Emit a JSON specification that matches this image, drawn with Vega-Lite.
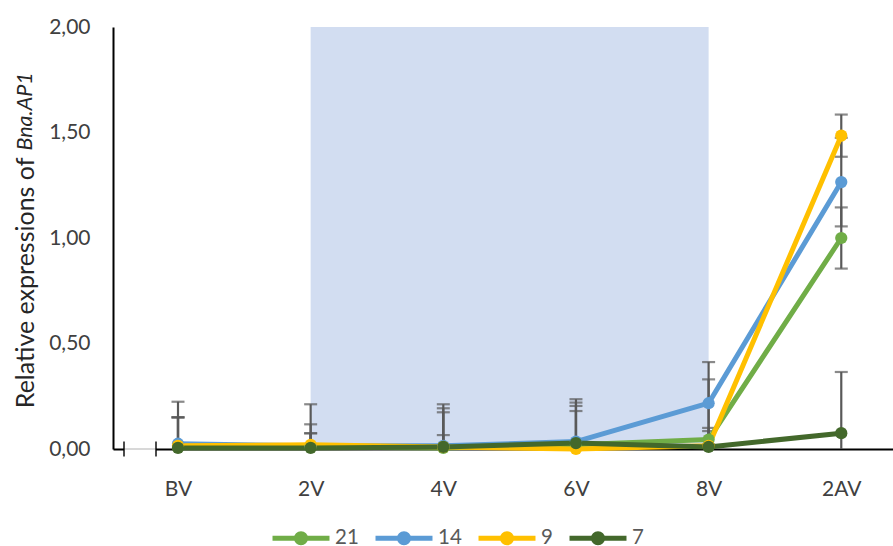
{
  "$schema": "https://vega.github.io/schema/vega-lite/v6.json",
  "width": 780,
  "height": 422,
  "autosize": {"type": "none"},
  "padding": {"left": 113, "top": 27, "right": 0, "bottom": 97},
  "background": "white",
  "config": {"view": {"stroke": null}, "font": "Lato"},
  "datasets": {
    "expr": [
      {"stage": "BV", "idx": 0, "series": "21", "value": 0.01, "lo": -0.204, "hi": 0.224},
      {"stage": "BV", "idx": 0, "series": "14", "value": 0.025, "lo": -0.1, "hi": 0.15},
      {"stage": "BV", "idx": 0, "series": "9", "value": 0.015, "lo": -0.12, "hi": 0.15},
      {"stage": "BV", "idx": 0, "series": "7", "value": 0.005, "lo": -0.14, "hi": 0.15},
      {"stage": "2V", "idx": 1, "series": "21", "value": 0.01, "lo": -0.19, "hi": 0.212},
      {"stage": "2V", "idx": 1, "series": "14", "value": 0.015, "lo": -0.087, "hi": 0.117},
      {"stage": "2V", "idx": 1, "series": "9", "value": 0.02, "lo": -0.034, "hi": 0.074},
      {"stage": "2V", "idx": 1, "series": "7", "value": 0.005, "lo": -0.065, "hi": 0.075},
      {"stage": "4V", "idx": 2, "series": "21", "value": 0.005, "lo": -0.2, "hi": 0.212},
      {"stage": "4V", "idx": 2, "series": "14", "value": 0.015, "lo": -0.163, "hi": 0.193},
      {"stage": "4V", "idx": 2, "series": "9", "value": 0.01, "lo": -0.154, "hi": 0.174},
      {"stage": "4V", "idx": 2, "series": "7", "value": 0.01, "lo": -0.046, "hi": 0.066},
      {"stage": "6V", "idx": 3, "series": "21", "value": 0.02, "lo": -0.196, "hi": 0.236},
      {"stage": "6V", "idx": 3, "series": "14", "value": 0.035, "lo": -0.15, "hi": 0.22},
      {"stage": "6V", "idx": 3, "series": "9", "value": 0.0, "lo": -0.204, "hi": 0.204},
      {"stage": "6V", "idx": 3, "series": "7", "value": 0.028, "lo": -0.124, "hi": 0.18},
      {"stage": "8V", "idx": 4, "series": "21", "value": 0.045, "lo": -0.24, "hi": 0.33},
      {"stage": "8V", "idx": 4, "series": "14", "value": 0.217, "lo": 0.022, "hi": 0.412},
      {"stage": "8V", "idx": 4, "series": "9", "value": 0.015, "lo": -0.07, "hi": 0.1},
      {"stage": "8V", "idx": 4, "series": "7", "value": 0.01, "lo": -0.065, "hi": 0.085},
      {"stage": "2AV", "idx": 5, "series": "21", "value": 1.0, "lo": 0.855, "hi": 1.145},
      {"stage": "2AV", "idx": 5, "series": "14", "value": 1.265, "lo": 1.055, "hi": 1.475},
      {"stage": "2AV", "idx": 5, "series": "9", "value": 1.485, "lo": 1.385, "hi": 1.585},
      {"stage": "2AV", "idx": 5, "series": "7", "value": 0.075, "lo": -0.215, "hi": 0.365}
    ],
    "shade": [{"start": "2V", "end": "8V", "from": 1, "to": 4}],
    "axisbreak": [{"from": -0.407, "to": -0.166, "level": 0}]
  },
  "layer": [
    {
      "data": {"name": "shade"},
      "mark": {"type": "rect", "fill": "#B4C7E7", "opacity": 0.6},
      "encoding": {
        "x": {
          "field": "from", "type": "quantitative",
          "scale": {"domain": [-0.49, 5.39], "nice": false, "zero": false},
          "axis": {
            "values": [0, 1, 2, 3, 4, 5],
            "labelExpr": "['BV','2V','4V','6V','8V','2AV'][datum.value]",
            "ticks": false, "grid": false,
            "domainColor": "black", "domainWidth": 2,
            "labelFontSize": 21, "labelColor": "#404040", "labelPadding": 29,
            "labelFlush": false, "title": null
          }
        },
        "x2": {"field": "to"},
        "y": {
          "datum": 0, "type": "quantitative",
          "scale": {"domain": [0, 2], "nice": false},
          "axis": {
            "orient": "left", "title": "Bna.AP1", "titleFontStyle": "italic",
            "labels": false, "ticks": false, "domain": false, "grid": false,
            "titleX": -88, "titleY": 123, "titleAlign": "left", "titleAngle": -90,
            "titleBaseline": "middle", "titleFontSize": 21.5, "titleColor": "#262626",
            "titleFontWeight": "normal"
          }
        },
        "y2": {"datum": 2}
      }
    },
    {
      "data": {"name": "expr"},
      "encoding": {
        "x": {"field": "idx", "type": "quantitative", "axis": {"title": null}}
      },
      "layer": [
        {
          "mark": {"type": "rule", "color": "#595959", "strokeWidth": 2.2, "clip": true},
          "encoding": {
            "y": {
              "field": "lo", "type": "quantitative",
              "scale": {"domain": [0, 2], "nice": false},
              "axis": {
                "orient": "left",
                "values": [0, 0.5, 1, 1.5, 2],
                "labelExpr": "replace(format(datum.value,'.2f'),'.',',')",
                "ticks": false, "domainColor": "black", "domainWidth": 2,
                "gridColor": "#c8c8c8", "gridWidth": 1.5,
                "labelFontSize": 21, "labelColor": "#404040", "labelPadding": 23,
                "title": "Relative expressions of",
                "titleX": -88, "titleY": 130, "titleAlign": "right", "titleAngle": -90,
                "titleBaseline": "middle", "titleFontSize": 25, "titleFontWeight": "normal",
                "titleColor": "#262626"
              }
            },
            "y2": {"field": "hi"}
          }
        },
        {
          "mark": {"type": "tick", "orient": "horizontal", "color": "#595959", "size": 13, "thickness": 2.2, "clip": true},
          "encoding": {"y": {"field": "hi", "type": "quantitative"}}
        },
        {
          "mark": {"type": "tick", "orient": "horizontal", "color": "#595959", "size": 13, "thickness": 2.2, "clip": true},
          "encoding": {"y": {"field": "lo", "type": "quantitative"}}
        },
        {
          "mark": {"type": "line", "strokeWidth": 5, "strokeJoin": "round", "strokeCap": "round"},
          "encoding": {
            "y": {"field": "value", "type": "quantitative"},
            "color": {
              "field": "series", "type": "nominal",
              "scale": {"domain": ["21", "14", "9", "7"], "range": ["#70AD47", "#5B9BD5", "#FFC000", "#43682B"]},
              "legend": {
                "orient": "none", "direction": "horizontal", "columns": 4,
                "legendX": 171, "legendY": 494, "title": null,
                "symbolType": "M-2,0H2M0.32,0A0.32,0.32,0,1,1,-0.32,0A0.32,0.32,0,1,1,0.32,0Z",
                "symbolSize": 812, "symbolStrokeWidth": 5,
                "labelFontSize": 20.5, "labelColor": "#595959", "labelOffset": 17,
                "columnPadding": 6,
                "encode": {
                  "symbols": {
                    "update": {
                      "stroke": {"scale": "color", "field": "value"},
                      "fill": {"scale": "color", "field": "value"},
                      "strokeWidth": {"value": 5},
                      "opacity": {"value": 1}
                    }
                  }
                }
              }
            }
          }
        },
        {
          "mark": {"type": "point", "filled": true, "size": 150, "opacity": 1},
          "encoding": {
            "y": {"field": "value", "type": "quantitative"},
            "color": {"field": "series", "type": "nominal"}
          }
        },
        {
          "data": {"name": "axisbreak"},
          "mark": {"type": "rule", "color": "white", "strokeWidth": 4},
          "encoding": {
            "x": {"field": "from", "type": "quantitative"},
            "x2": {"field": "to"},
            "y": {"field": "level", "type": "quantitative"}
          }
        },
        {
          "data": {"name": "axisbreak"},
          "mark": {"type": "rule", "color": "#bfbfbf", "strokeWidth": 1.2},
          "encoding": {
            "x": {"field": "from", "type": "quantitative"},
            "x2": {"field": "to"},
            "y": {"field": "level", "type": "quantitative"}
          }
        },
        {
          "data": {"name": "axisbreak"},
          "mark": {"type": "tick", "orient": "vertical", "color": "black", "size": 15, "thickness": 2},
          "encoding": {
            "x": {"field": "from", "type": "quantitative"},
            "y": {"field": "level", "type": "quantitative"}
          }
        },
        {
          "data": {"name": "axisbreak"},
          "mark": {"type": "tick", "orient": "vertical", "color": "black", "size": 15, "thickness": 2},
          "encoding": {
            "x": {"field": "to", "type": "quantitative"},
            "y": {"field": "level", "type": "quantitative"}
          }
        }
      ]
    }
  ],
  "resolve": {"scale": {"y": "independent"}}
}
